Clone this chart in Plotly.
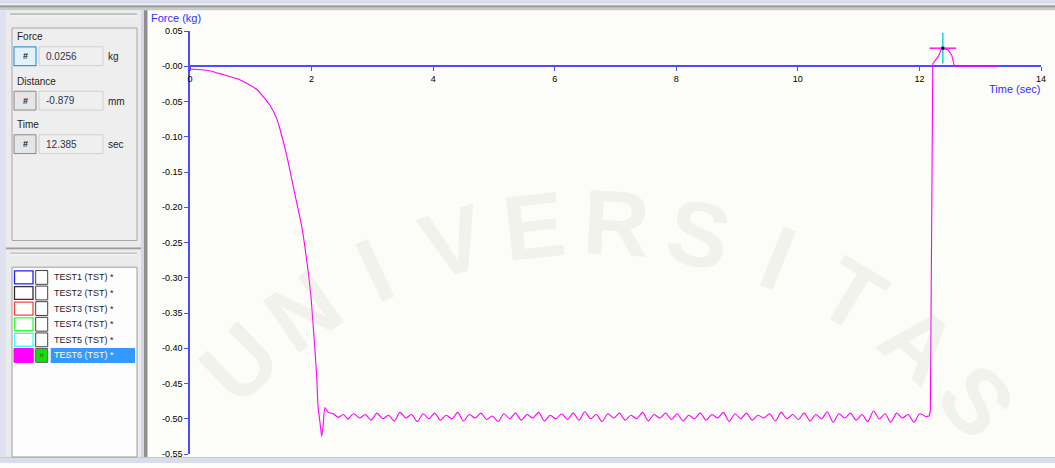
import math
import plotly.graph_objects as go

# ---------------- data ----------------
# probe descent: time (s) / force (kg)
drop_time = [0.0, 0.30, 0.55, 0.82, 1.10, 1.32, 1.43, 1.48, 1.59, 1.727, 1.842, 1.924,
             1.990, 2.039, 2.084, 2.105, 2.138, 2.166, 2.190, 2.220, 2.275, 2.357, 2.44, 2.52]
drop_force = [-0.004, -0.006, -0.012, -0.019, -0.033, -0.056, -0.075, -0.089, -0.126, -0.182,
              -0.229, -0.278, -0.327, -0.383, -0.439, -0.481, -0.505, -0.525, -0.510, -0.484,
              -0.491, -0.493, -0.498, -0.494]

# hold plateau, logged every ripple_dt seconds from ripple_t0
ripple_t0 = 2.60
ripple_dt = 0.095
ripple_force = [
    -0.501, -0.493, -0.499, -0.494, -0.502, -0.492, -0.500, -0.495, -0.503, -0.491,
    -0.499, -0.494, -0.504, -0.493, -0.500, -0.492, -0.502, -0.495, -0.500, -0.491,
    -0.503, -0.494, -0.499, -0.492, -0.501, -0.496, -0.504, -0.493, -0.500, -0.492,
    -0.502, -0.494, -0.499, -0.491, -0.503, -0.495, -0.500, -0.493, -0.501, -0.492,
    -0.502, -0.490, -0.500, -0.494, -0.504, -0.493, -0.499, -0.492, -0.502, -0.495,
    -0.500, -0.491, -0.503, -0.494, -0.499, -0.492, -0.501, -0.493, -0.503, -0.495,
    -0.500, -0.492, -0.502, -0.494, -0.499, -0.491, -0.504, -0.493, -0.500, -0.492,
    -0.502, -0.495, -0.499, -0.493, -0.503, -0.491, -0.500, -0.494, -0.501, -0.492,
    -0.503, -0.494, -0.500, -0.490, -0.505, -0.493, -0.499, -0.492, -0.502, -0.494,
    -0.504, -0.489, -0.500, -0.493, -0.505, -0.492, -0.499, -0.494, -0.505, -0.493,
    -0.497,
]

# withdrawal / release
release_time = [12.16, 12.18, 12.22, 12.25, 12.31, 12.36, 12.385, 12.47, 12.53, 12.57, 12.58, 13.29]
release_force = [-0.496, -0.489, 0.004, 0.007, 0.014, 0.024, 0.0256, 0.023, 0.016, 0.002, 0.0, 0.0]

# cursor readout
cursor_time = 12.385
cursor_force = 0.0256
cursor_distance = -0.879

x_ticks = [0, 2, 4, 6, 8, 10, 12, 14]
y_ticks = [0.05, 0.0, -0.05, -0.10, -0.15, -0.20, -0.25, -0.30, -0.35, -0.40, -0.45, -0.50, -0.55]
y_tick_text = ["0.05", "-0.00", "-0.05", "-0.10", "-0.15", "-0.20", "-0.25", "-0.30",
               "-0.35", "-0.40", "-0.45", "-0.50", "-0.55"]

tests = ["TEST1 (TST) *", "TEST2 (TST) *", "TEST3 (TST) *", "TEST4 (TST) *",
         "TEST5 (TST) *", "TEST6 (TST) *"]
test_colors = ["#2020ff", "#303030", "#ff4040", "#30ff30", "#40ffff", "#ff00ff"]

watermark = "UNIVERSITAS"

# ---------------- geometry ----------------
W, H = 1055, 468
ML, MR, MT, MB = 190, 14, 31, 9
PW = W - ML - MR
PH = H - MT - MB

def fx(px):
    return (px - ML) / PW

def fy(py):
    return (H - MB - py) / PH

LINE = "#ff00ff"
AXIS = "#4d4dff"
BG = "#fcfcf8"
FONT = "Liberation Sans, Arial, sans-serif"

fig = go.Figure()

ripple_time = [ripple_t0 + i * ripple_dt for i in range(len(ripple_force))]

fig.add_trace(go.Scatter(x=drop_time + ripple_time[:1], y=drop_force + ripple_force[:1],
                         mode="lines", line=dict(color=LINE, width=1.1, shape="spline", smoothing=0.5),
                         hoverinfo="skip"))
fig.add_trace(go.Scatter(x=ripple_time, y=ripple_force, mode="lines",
                         line=dict(color=LINE, width=1.1, shape="spline", smoothing=0.8),
                         hoverinfo="skip"))
fig.add_trace(go.Scatter(x=ripple_time[-1:] + release_time, y=ripple_force[-1:] + release_force,
                         mode="lines", line=dict(color=LINE, width=1.1), hoverinfo="skip"))

# cursor crosshair
fig.add_trace(go.Scatter(x=[cursor_time], y=[cursor_force], mode="markers",
                         marker=dict(symbol="line-ns", size=22,
                                     line=dict(color="#20d8d8", width=1.6)),
                         hoverinfo="skip", cliponaxis=False))
fig.add_trace(go.Scatter(x=[cursor_time], y=[cursor_force], mode="markers",
                         marker=dict(symbol="line-ew", size=19,
                                     line=dict(color="#ff20ff", width=1.6)),
                         hoverinfo="skip", cliponaxis=False))
fig.add_trace(go.Scatter(x=[cursor_time], y=[cursor_force], mode="markers",
                         marker=dict(symbol="square", size=3, color="#000000"),
                         hoverinfo="skip", cliponaxis=False))

shapes = []
ann = []

def box(x0, y0, x1, y1, fill, line=None, lw=1):
    shapes.append(dict(type="rect", xref="paper", yref="paper",
                       x0=fx(x0), x1=fx(x1), y0=fy(y1), y1=fy(y0),
                       fillcolor=fill, layer="above",
                       line=dict(width=lw if line else 0, color=line or fill)))

def text(x, y, s, size=10, color="#1e1e1e", anchor="left", bold=False, angle=0):
    ann.append(dict(xref="paper", yref="paper", x=fx(x), y=fy(y), text=f"<b>{s}</b>" if bold else s,
                    showarrow=False, xanchor=anchor, yanchor="middle", textangle=angle,
                    font=dict(family=FONT, size=size, color=color)))

# faint, translucent repository watermark arched across the plot
arc_cx, arc_cy, arc_r = 590, 730, 505
for k, ch in enumerate(watermark):
    theta = -44 + k * 9.4
    t = math.radians(theta)
    text(arc_cx + arc_r * math.sin(t), arc_cy - arc_r * math.cos(t), ch, size=92,
         color="rgba(185,185,165,0.14)", anchor="center", bold=True, angle=theta)

# window chrome
box(0, 0, W, 3.5, "#d9dcec")
box(0, 3.5, W, 5, "#f1f2f6")
box(0, 5, W, 7.5, "#9c9c9c")
box(0, 7.5, W, 10, "#cacaca")
box(0, 462, W, 463.5, "#c8c8c8")
box(0, 463.5, W, H, "#d9dcec")

# left side panel
box(0, 10, 147, 462, "#dfe2ee")
box(6, 10, 141, 250, "#ebebeb")
box(10, 13, 137, 15, "#bdbdbd")
box(10, 15, 137, 16, "#fafafa")
box(12, 28, 137, 243, "#eeeeee", "#a8a8a8")
box(6, 250, 143, 252, "#9a9a9a")
box(6, 252, 141, 462, "#ebebeb")
box(10, 255, 137, 257, "#c4c4c4")
box(10, 257, 137, 258, "#fafafa")
box(12, 270, 137, 462, "#fdfdfd", "#a0a0a0")
box(141, 10, 144, 462, "#d4d8e6")
box(144, 10, 147.5, 462, "#8e8e8e")

# readout fields
fields = [("Force", f"{cursor_force:.4f}", "kg", 37),
          ("Distance", f"{cursor_distance:.3f}", "mm", 82),
          ("Time", f"{cursor_time:.3f}", "sec", 126)]
for i, (name, val, unit, ly) in enumerate(fields):
    by = ly + 10
    text(15, ly, name, size=10)
    if i == 0:
        box(14, by, 36, by + 19, "#e3f1fb", "#3a9ad9", 1.2)
    else:
        box(14, by, 36, by + 19, "#e6e6e6", "#8a8a8a", 1)
    text(25, by + 9.5, "#", size=9, anchor="center", bold=True, color="#202020")
    box(39, by, 103, by + 19, "#efefef", "#d2d2d2", 1)
    text(44, by + 9.5, val, size=10, color="#2e3550")
    text(106, by + 10, unit, size=10)

# test list
for i, (name, col) in enumerate(zip(tests, test_colors)):
    ry = 273.3 + i * 15.8
    last = i == len(tests) - 1
    if last:
        box(14, ry, 33.3, ry + 14, col, col, 1)
        box(35.7, ry, 47.7, ry + 14, "#10e010", "#606060", 1)
        text(41.7, ry + 7, "»", size=9, anchor="center", color="#505000")
        box(50.7, ry - 0.5, 135, ry + 14.5, "#3399ff")
        text(51.7, ry + 7, name, size=9, color="#ffffff")
    else:
        box(14.5, ry + 0.5, 33, ry + 13.5, "#ffffff", col, 1.3)
        box(35.7, ry, 47.7, ry + 14, "#ffffff", "#404040", 1)
        text(51.7, ry + 7, name, size=9, color="#2a1a2a")

# axis titles
text(175.7, 18.3, "Force (kg)", size=11, anchor="center", color="#3030ff")
text(1015, 89.3, "Time (sec)", size=11, anchor="center", color="#3030ff")

fig.update_layout(
    width=W, height=H,
    margin=dict(l=ML, r=MR, t=MT, b=MB, pad=0),
    paper_bgcolor=BG, plot_bgcolor=BG,
    showlegend=False,
    shapes=shapes, annotations=ann,
    font=dict(family=FONT, size=9, color="#000000"),
    xaxis=dict(range=[0, 14], tickvals=x_ticks, ticktext=[str(v) for v in x_ticks],
               anchor="free", position=(0 - y_ticks[-1]) / (y_ticks[0] - y_ticks[-1]),
               showline=True, linecolor=AXIS, linewidth=1.5, ticks="outside", ticklen=4,
               tickcolor=AXIS, tickwidth=1.2, showgrid=False, zeroline=False,
               layer="below traces", tickfont=dict(size=9, color="#000000")),
    yaxis=dict(range=[y_ticks[-1], y_ticks[0]], tickvals=y_ticks, ticktext=y_tick_text,
               showline=True, linecolor=AXIS, linewidth=1.5, ticks="outside", ticklen=4,
               tickcolor=AXIS, tickwidth=1.2, showgrid=False, zeroline=False,
               layer="below traces", tickfont=dict(size=9, color="#000000")),
)

fig.write_html("out.html")
